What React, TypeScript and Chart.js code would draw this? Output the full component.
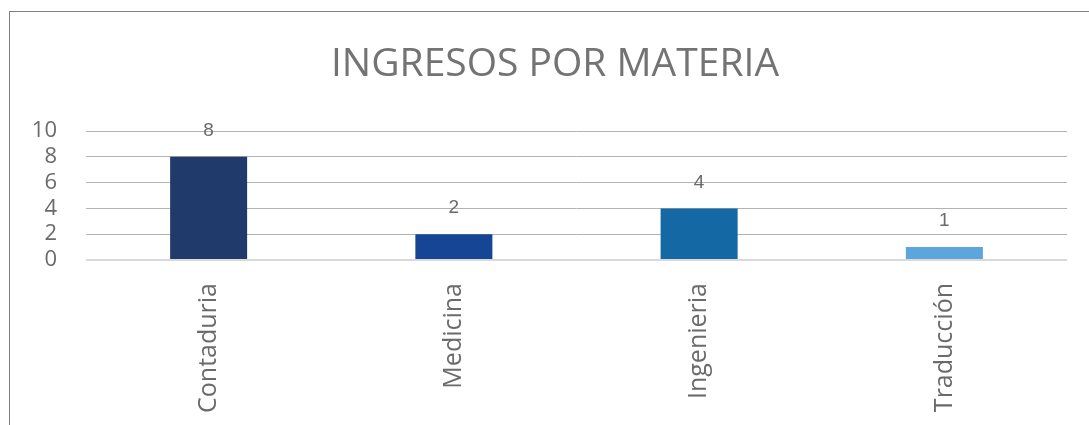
import React, { useEffect, useRef } from 'react';
import { Chart, registerables } from 'chart.js';

Chart.register(...registerables);

const titleText = 'INGRESOS POR MATERIA';
const categories = ['Contaduria', 'Medicina', 'Ingenieria', 'Traducción'];
const values = [8, 2, 4, 1];
const barColors = ['#203A6B', '#174596', '#1468A3', '#5DA6DD'];
const yMin = 0;
const yMax = 10;
const yStep = 2;

const TEXT = '#6b6b6b';
const TITLE = '#737373';
const FONT = '"Open Sans", "Liberation Sans", Arial, sans-serif';

const valueLabels = {
  id: 'valueLabels',
  afterDatasetsDraw(chart: any) {
    const ctx = chart.ctx;
    const meta = chart.getDatasetMeta(0);
    ctx.save();
    ctx.font = '19px "Liberation Sans", Arial, sans-serif';
    ctx.fillStyle = TEXT;
    ctx.textAlign = 'center';
    ctx.textBaseline = 'middle';
    meta.data.forEach((bar: any, i: number) => {
      ctx.fillText(String(values[i]), bar.x, bar.y - 26);
    });
    ctx.restore();
  },
};

const chartTitle = {
  id: 'chartTitle',
  afterDraw(chart: any) {
    const ctx = chart.ctx;
    ctx.save();
    ctx.font = '39px ' + FONT;
    ctx.fillStyle = TITLE;
    ctx.textAlign = 'center';
    ctx.textBaseline = 'middle';
    ctx.fillText(titleText, 555, 64.4);
    ctx.restore();
  },
};

export default function App() {
  const ref = useRef<HTMLCanvasElement | null>(null);

  useEffect(() => {
    if (!ref.current) return;
    const chart = new Chart(ref.current, {
      type: 'bar',
      data: {
        labels: categories,
        datasets: [
          {
            data: values,
            backgroundColor: barColors,
            borderWidth: 0,
            categoryPercentage: 1,
            barPercentage: 0.314,
          },
        ],
      },
      options: {
        animation: false,
        responsive: false,
        layout: { padding: { left: 20, right: 22, top: 131, bottom: 0 } },
        plugins: {
          legend: { display: false },
          tooltip: { enabled: false },
          title: { display: false },
        },
        scales: {
          x: {
            grid: { display: false },
            border: { display: false },
            ticks: {
              color: TEXT,
              font: { family: FONT, size: 25 },
              minRotation: 90,
              maxRotation: 90,
              padding: 15,
              autoSkip: false,
            },
            afterFit: (s: any) => {
              s.height = 165;
            },
          },
          y: {
            min: yMin,
            max: yMax,
            border: { display: false },
            grid: {
              drawTicks: false,
              color: (c: any) => (c.tick && c.tick.value === 0 ? '#d9d9d9' : '#b3b3b3'),
              lineWidth: (c: any) => (c.tick && c.tick.value === 0 ? 2 : 1),
            },
            ticks: {
              stepSize: yStep,
              autoSkip: false,
              color: TEXT,
              font: { family: FONT, size: 22 },
              padding: 29,
            },
            afterFit: (s: any) => {
              s.width = 66;
            },
          },
        },
      },
      plugins: [valueLabels, chartTitle],
    });
    return () => chart.destroy();
  }, []);

  return (
    <div
      style={{
        position: 'absolute',
        left: 0,
        top: 0,
        width: 1089,
        height: 425,
        overflow: 'hidden',
        background: '#ffffff',
      }}
    >
      <div
        style={{
          position: 'absolute',
          left: 9,
          top: 11,
          width: 1200,
          height: 600,
          borderLeft: '1px solid #808080',
          borderTop: '1px solid #808080',
        }}
      />
      <canvas
        ref={ref}
        width={1089}
        height={425}
        style={{ position: 'absolute', left: 0, top: 0, width: 1089, height: 425 }}
      />
    </div>
  );
}
